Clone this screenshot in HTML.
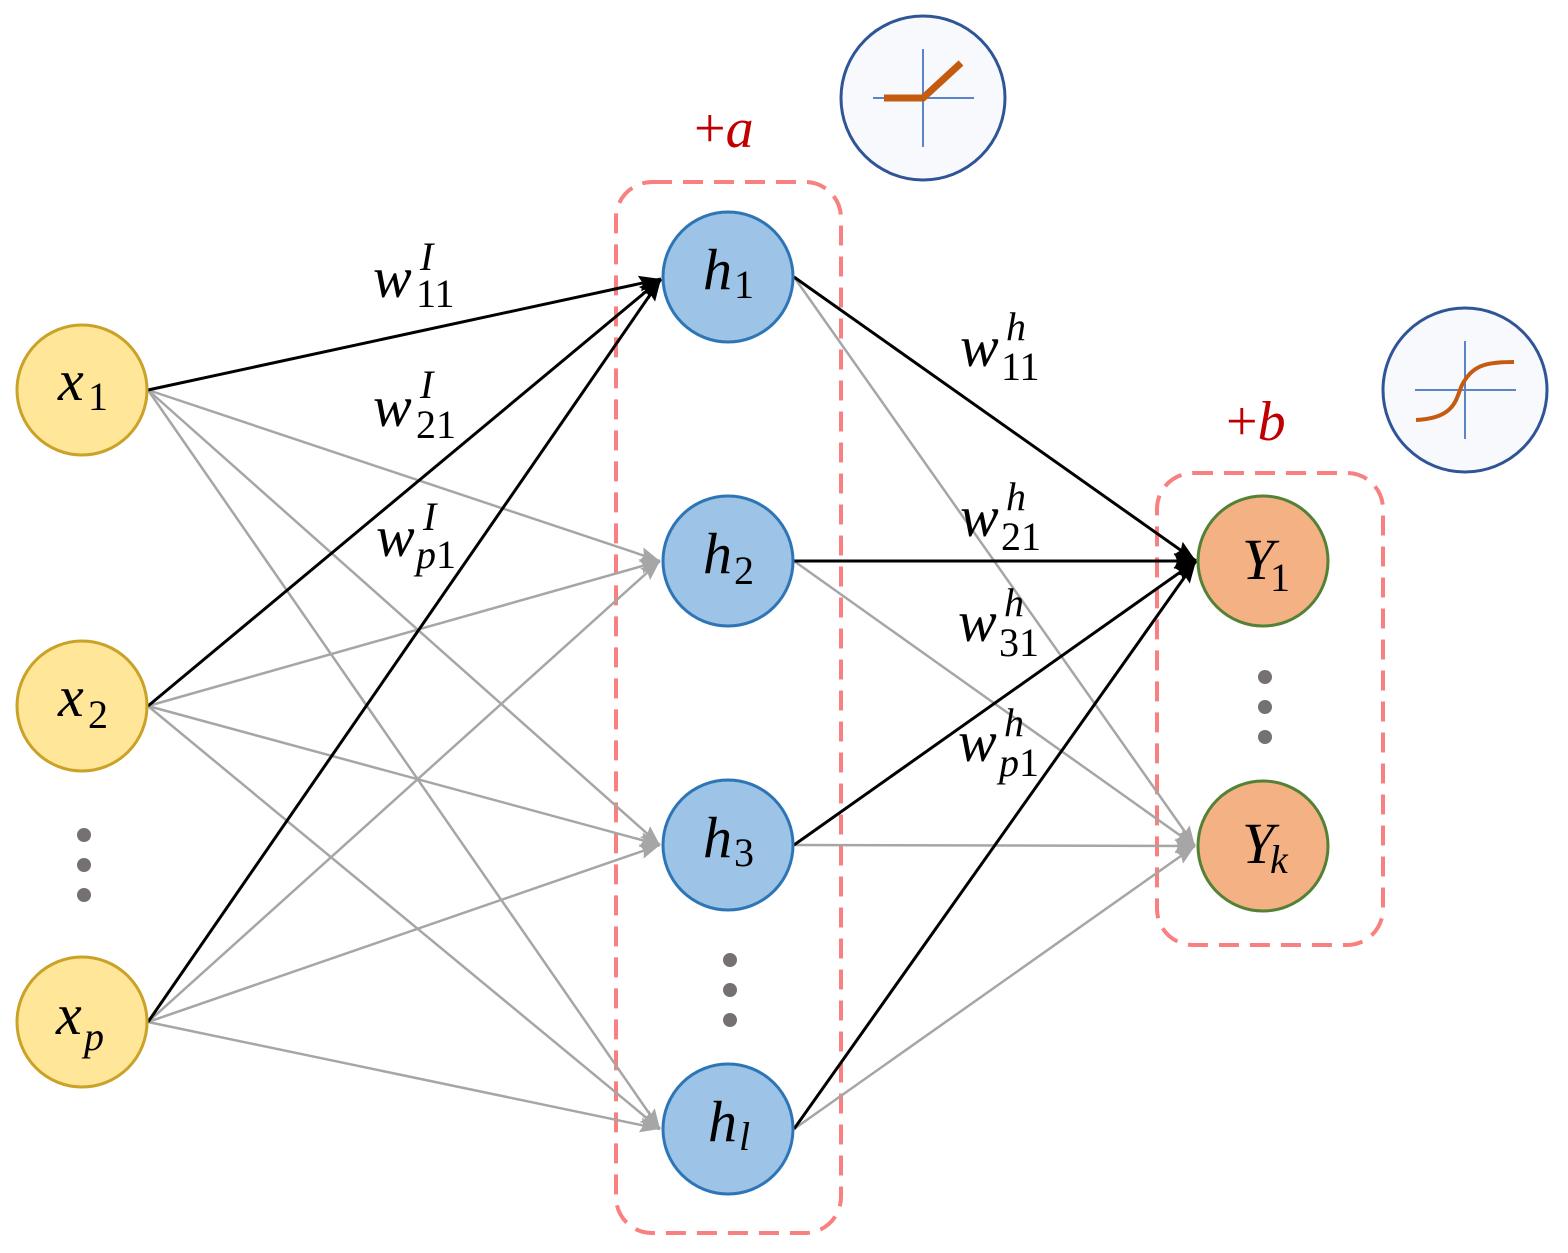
<!DOCTYPE html>
<html><head><meta charset="utf-8"><style>
html,body{margin:0;padding:0;background:#fff}
svg{display:block}
text{font-family:"Liberation Serif",serif;font-style:italic}
.s{font-style:normal}
</style></head><body>
<svg width="1568" height="1253" viewBox="0 0 1568 1253" xmlns="http://www.w3.org/2000/svg">
<defs>
<marker id="ab" viewBox="0 0 10 10" refX="10" refY="5" markerWidth="22" markerHeight="16" markerUnits="userSpaceOnUse" orient="auto" preserveAspectRatio="none"><path d="M0,0 L10,5 L0,10 L1.5,5 Z" fill="#000"/></marker>
<marker id="ag" viewBox="0 0 10 10" refX="10" refY="5" markerWidth="20" markerHeight="15" markerUnits="userSpaceOnUse" orient="auto" preserveAspectRatio="none"><path d="M0,0 L10,5 L0,10 L1.5,5 Z" fill="#a6a6a6"/></marker>
</defs>
<rect x="616" y="182" width="225" height="1051" rx="36" fill="none" stroke="#f88080" stroke-width="4" stroke-dasharray="20 11"/>
<rect x="1157" y="473" width="226" height="472" rx="36" fill="none" stroke="#f88080" stroke-width="4" stroke-dasharray="20 11"/>
<g stroke="#a6a6a6" stroke-width="2.5" marker-end="url(#ag)" fill="none">
<line x1="148" y1="390" x2="660" y2="561"/>
<line x1="148" y1="390" x2="660" y2="845"/>
<line x1="148" y1="390" x2="660" y2="1129"/>
<line x1="148" y1="706" x2="660" y2="561"/>
<line x1="148" y1="706" x2="660" y2="845"/>
<line x1="148" y1="706" x2="660" y2="1129"/>
<line x1="148" y1="1022" x2="660" y2="561"/>
<line x1="148" y1="1022" x2="660" y2="845"/>
<line x1="148" y1="1022" x2="660" y2="1129"/>
<line x1="794" y1="277" x2="1195" y2="846"/>
<line x1="794" y1="561" x2="1195" y2="846"/>
<line x1="794" y1="845" x2="1195" y2="846"/>
<line x1="794" y1="1129" x2="1195" y2="846"/>
</g>
<g stroke="#000" stroke-width="3" marker-end="url(#ab)" fill="none">
<line x1="148" y1="390" x2="661" y2="279"/>
<line x1="148" y1="706" x2="661" y2="279"/>
<line x1="148" y1="1022" x2="661" y2="279"/>
<line x1="794" y1="277" x2="1196" y2="561"/>
<line x1="794" y1="561" x2="1196" y2="561"/>
<line x1="794" y1="845" x2="1196" y2="561"/>
<line x1="794" y1="1129" x2="1196" y2="561"/>
</g>
<g fill="#ffe699" stroke="#c9a227" stroke-width="3">
<circle cx="82" cy="390" r="65"/><circle cx="82" cy="706" r="65"/><circle cx="82" cy="1022" r="65"/>
</g>
<g fill="#9dc3e6" stroke="#2e75b6" stroke-width="3">
<circle cx="728" cy="277" r="65"/><circle cx="728" cy="561" r="65"/><circle cx="728" cy="845" r="65"/><circle cx="728" cy="1129" r="65"/>
</g>
<g fill="#f4b183" stroke="#538135" stroke-width="3">
<circle cx="1263" cy="561" r="65"/><circle cx="1263" cy="846" r="65"/>
</g>
<g fill="#767171">
<circle cx="84" cy="835" r="7"/><circle cx="84" cy="865" r="7"/><circle cx="84" cy="895" r="7"/>
<circle cx="730" cy="960" r="7"/><circle cx="730" cy="990" r="7"/><circle cx="730" cy="1020" r="7"/>
<circle cx="1265" cy="677" r="7"/><circle cx="1265" cy="707" r="7"/><circle cx="1265" cy="737" r="7"/>
</g>
<circle cx="923" cy="98" r="82" fill="#f7f9fd" stroke="#2f5597" stroke-width="3"/>
<line x1="873" y1="98" x2="974" y2="98" stroke="#5b85c8" stroke-width="2"/>
<line x1="923" y1="49" x2="923" y2="147" stroke="#5b85c8" stroke-width="2"/>
<polyline points="884,98 923,98 961,63" fill="none" stroke="#c55a11" stroke-width="7"/>
<circle cx="1465" cy="390" r="82" fill="#f7f9fd" stroke="#2f5597" stroke-width="3"/>
<line x1="1415" y1="390" x2="1516" y2="390" stroke="#5b85c8" stroke-width="2"/>
<line x1="1465" y1="341" x2="1465" y2="439" stroke="#5b85c8" stroke-width="2"/>
<path d="M1416,420 C1462,418 1455,392 1465,380 C1475,364 1490,362 1514,362" fill="none" stroke="#c55a11" stroke-width="4"/>
<g font-size="58" fill="#000">
<text x="58" y="400">x</text><text class="s" x="88" y="410" font-size="40">1</text>
<text x="58" y="716">x</text><text class="s" x="88" y="728" font-size="40">2</text>
<text x="56" y="1034">x</text><text x="84" y="1050" font-size="40">p</text>
<text x="703" y="289">h</text><text class="s" x="734" y="298" font-size="40">1</text>
<text x="703" y="573">h</text><text class="s" x="734" y="584" font-size="40">2</text>
<text x="703" y="857">h</text><text class="s" x="734" y="866" font-size="40">3</text>
<text x="708" y="1141">h</text><text x="739" y="1150" font-size="40">l</text>
<text x="1242" y="579">Y</text><text class="s" x="1270" y="591" font-size="40">1</text>
<text x="1242" y="863">Y</text><text x="1270" y="873" font-size="40">k</text>
<text x="373" y="297">w</text><text x="420" y="270" font-size="40">I</text><text class="s" x="416" y="307" font-size="40">11</text>
<text x="373" y="426">w</text><text x="420" y="398" font-size="40">I</text><text class="s" x="416" y="438" font-size="40">21</text>
<text x="376" y="556">w</text><text x="423" y="530" font-size="40">I</text><text x="416" y="568" font-size="40">p<tspan class="s">1</tspan></text>
<text x="960" y="366">w</text><text x="1006" y="340" font-size="40">h</text><text class="s" x="1001" y="380" font-size="40">11</text>
<text x="960" y="536">w</text><text x="1006" y="510" font-size="40">h</text><text class="s" x="1001" y="550" font-size="40">21</text>
<text x="958" y="641">w</text><text x="1004" y="616" font-size="40">h</text><text class="s" x="999" y="656" font-size="40">31</text>
<text x="958" y="761">w</text><text x="1004" y="736" font-size="40">h</text><text x="999" y="776" font-size="40">p<tspan class="s">1</tspan></text>
</g>
<g font-size="56" fill="#c00000">
<text x="694" y="147"><tspan class="s">+</tspan>a</text>
<text x="1226" y="440"><tspan class="s">+</tspan>b</text>
</g>
</svg>
</body></html>
